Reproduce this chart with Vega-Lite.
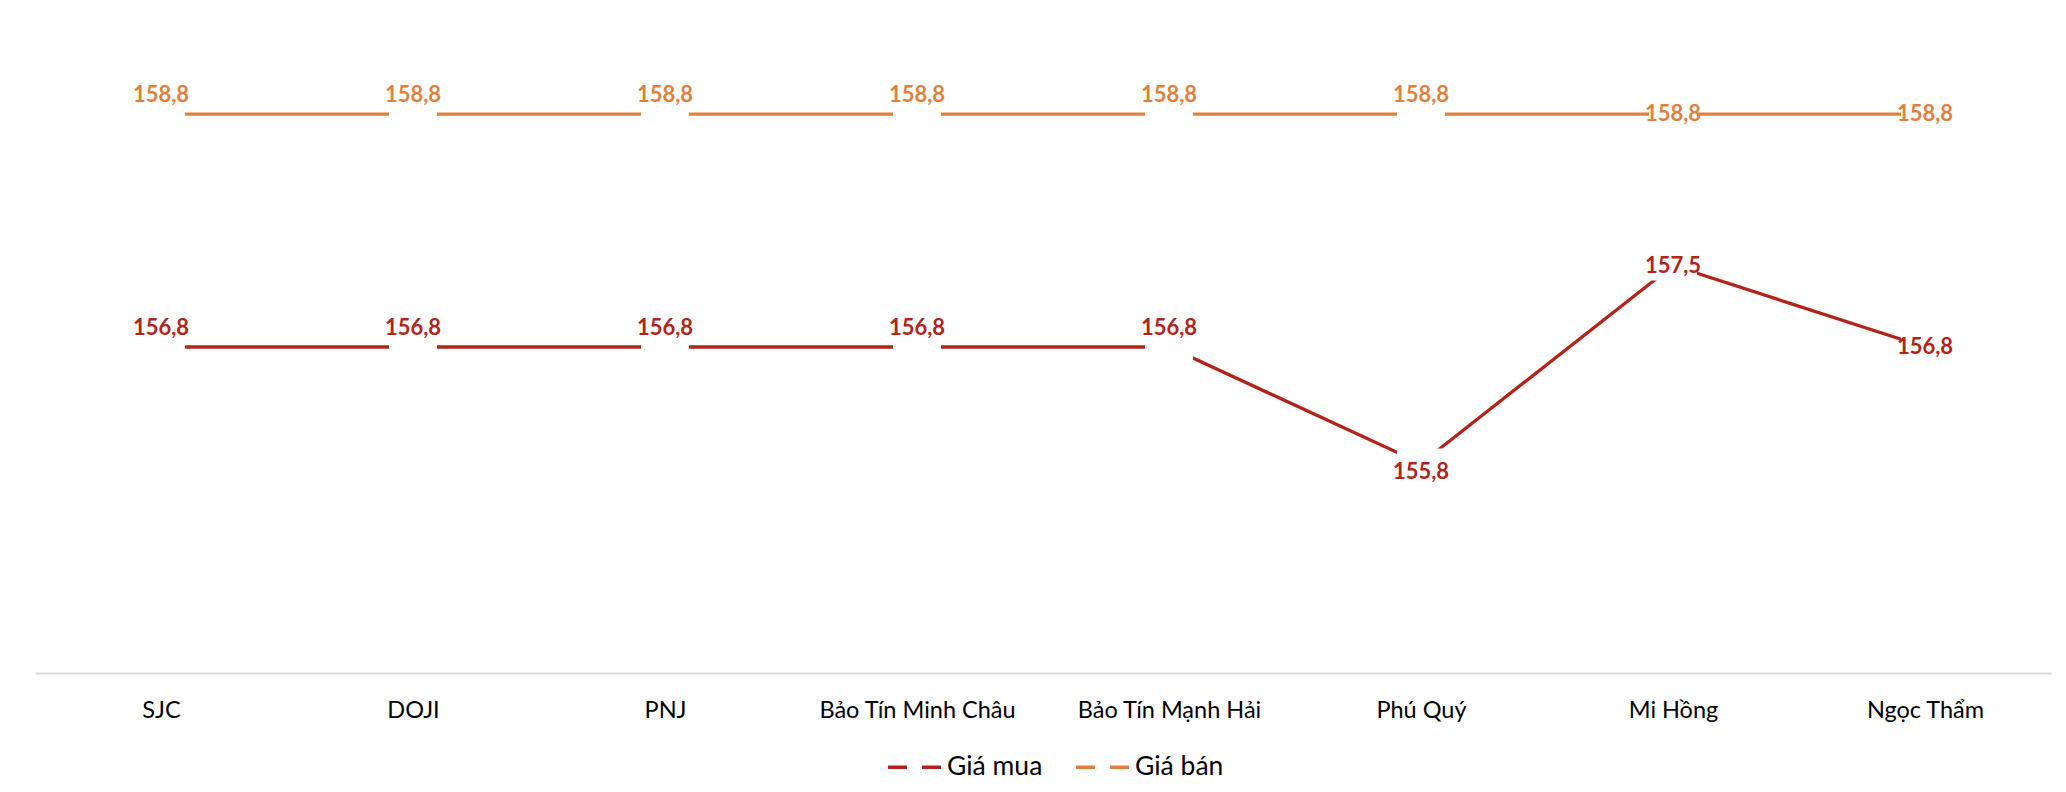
{
  "$schema": "https://vega.github.io/schema/vega-lite/v6.json",
  "autosize": {"type": "none"},
  "width": 2016,
  "height": 652,
  "padding": {"left": 35, "top": 21, "right": 15, "bottom": 119},
  "background": "white",
  "data": {
    "values": [
      {"brand": "SJC", "series": "Giá mua", "price": 156.8},
      {"brand": "DOJI", "series": "Giá mua", "price": 156.8},
      {"brand": "PNJ", "series": "Giá mua", "price": 156.8},
      {"brand": "Bảo Tín Minh Châu", "series": "Giá mua", "price": 156.8},
      {"brand": "Bảo Tín Mạnh Hải", "series": "Giá mua", "price": 156.8},
      {"brand": "Phú Quý", "series": "Giá mua", "price": 155.8},
      {"brand": "Mi Hồng", "series": "Giá mua", "price": 157.5},
      {"brand": "Ngọc Thẩm", "series": "Giá mua", "price": 156.8},
      {"brand": "SJC", "series": "Giá bán", "price": 158.8},
      {"brand": "DOJI", "series": "Giá bán", "price": 158.8},
      {"brand": "PNJ", "series": "Giá bán", "price": 158.8},
      {"brand": "Bảo Tín Minh Châu", "series": "Giá bán", "price": 158.8},
      {"brand": "Bảo Tín Mạnh Hải", "series": "Giá bán", "price": 158.8},
      {"brand": "Phú Quý", "series": "Giá bán", "price": 158.8},
      {"brand": "Mi Hồng", "series": "Giá bán", "price": 158.8},
      {"brand": "Ngọc Thẩm", "series": "Giá bán", "price": 158.8}
    ]
  },
  "encoding": {
    "x": {
      "field": "brand",
      "type": "nominal",
      "sort": ["SJC", "DOJI", "PNJ", "Bảo Tín Minh Châu", "Bảo Tín Mạnh Hải", "Phú Quý", "Mi Hồng", "Ngọc Thẩm"],
      "scale": {"type": "point", "padding": 0.5},
      "axis": {
        "title": null,
        "ticks": false,
        "grid": false,
        "domainColor": "#D9D9D9",
        "domainWidth": 2,
        "labelAngle": 0,
        "labelFont": "Lato",
        "labelFontSize": 23.5,
        "labelColor": "#000000",
        "labelBaseline": "alphabetic",
        "labelPadding": 44,
        "labelLimit": 0
      }
    },
    "y": {
      "field": "price",
      "type": "quantitative",
      "scale": {"domain": [154, 159.6], "zero": false, "nice": false},
      "axis": null
    }
  },
  "layer": [
    {
      "mark": {"type": "line", "strokeWidth": 3.3, "strokeCap": "butt"},
      "encoding": {
        "color": {
          "field": "series",
          "type": "nominal",
          "scale": {"domain": ["Giá mua", "Giá bán"], "range": ["#B3231A", "#E0803F"]},
          "legend": {
            "title": null,
            "orient": "none",
            "direction": "horizontal",
            "legendX": 851,
            "legendY": 716,
            "padding": 0,
            "symbolType": "stroke",
            "symbolSize": 3136,
            "symbolStrokeWidth": 3.3,
            "symbolDash": [19, 15],
            "labelFont": "Lato",
            "labelFontSize": 26.5,
            "labelColor": "#000000",
            "labelOffset": 1,
            "labelLimit": 0,
            "columnPadding": 26
          }
        }
      }
    },
    {
      "mark": {
        "type": "point",
        "shape": "M-1,-0.62L1,-0.62L1,0.62L-1,0.62Z",
        "size": 2304,
        "filled": true,
        "fill": "white",
        "opacity": 1,
        "strokeWidth": 0
      }
    },
    {
      "transform": [{"filter": "datum.brand !== 'Mi Hồng' && datum.brand !== 'Ngọc Thẩm' && !(datum.brand === 'Phú Quý' && datum.series === 'Giá mua')"}],
      "mark": {"type": "text", "font": "Lato", "fontWeight": "bold", "fontSize": 22, "baseline": "middle", "dy": -19},
      "encoding": {
        "text": {"field": "price", "type": "quantitative", "format": ".1f"},
        "color": {"field": "series", "type": "nominal", "legend": null}
      }
    },
    {
      "transform": [{"filter": "datum.brand === 'Mi Hồng' || datum.brand === 'Ngọc Thẩm'"}],
      "mark": {"type": "text", "font": "Lato", "fontWeight": "bold", "fontSize": 22, "baseline": "middle", "dy": 0},
      "encoding": {
        "text": {"field": "price", "type": "quantitative", "format": ".1f"},
        "color": {"field": "series", "type": "nominal", "legend": null}
      }
    },
    {
      "transform": [{"filter": "datum.brand === 'Phú Quý' && datum.series === 'Giá mua'"}],
      "mark": {"type": "text", "font": "Lato", "fontWeight": "bold", "fontSize": 22, "baseline": "middle", "dy": 9},
      "encoding": {
        "text": {"field": "price", "type": "quantitative", "format": ".1f"},
        "color": {"field": "series", "type": "nominal", "legend": null}
      }
    }
  ],
  "config": {
    "view": {"stroke": null},
    "locale": {
      "number": {"decimal": ",", "thousands": ".", "grouping": [3], "currency": ["", " ₫"]}
    }
  }
}
